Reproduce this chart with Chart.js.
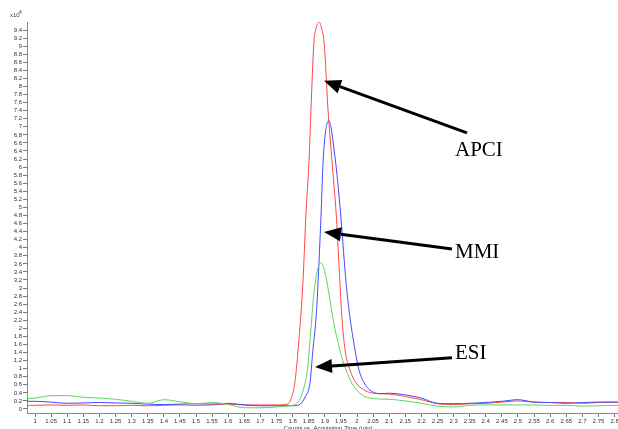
<!DOCTYPE html>
<html>
<head>
<meta charset="utf-8">
<script src="https://cdn.jsdelivr.net/npm/chart.js@4/dist/chart.umd.min.js"></script>
<style>
  html, body { margin: 0; padding: 0; background: #fff; overflow: hidden; width: 618px; height: 429px; }
  #wrap { position: relative; width: 640px; height: 429px; }
</style>
</head>
<body>
<div id="wrap"><canvas id="c" width="640" height="429"></canvas></div>
<script>
// Acquisition time (min) and counts (x10^4) for each ionisation source
const apciTime = [0.975, 1.0, 1.05, 1.1, 1.15, 1.2, 1.25, 1.3, 1.35, 1.4, 1.45, 1.5, 1.55, 1.6, 1.65, 1.7, 1.75, 1.785, 1.797, 1.807, 1.817, 1.832, 1.841, 1.851, 1.857, 1.866, 1.873, 1.882, 1.890, 1.898, 1.910, 1.922, 1.936, 1.947, 1.953, 1.963, 1.978, 1.997, 2.022, 2.045, 2.065, 2.1, 2.15, 2.2, 2.25, 2.3, 2.35, 2.4, 2.45, 2.5, 2.55, 2.6, 2.65, 2.7, 2.75, 2.8, 2.82];
const apciCounts = [0.09, 0.09, 0.1, 0.09, 0.1, 0.08, 0.08, 0.09, 0.08, 0.09, 0.1, 0.09, 0.1, 0.12, 0.1, 0.1, 0.1, 0.12, 0.3, 0.65, 1.46, 3.13, 4.76, 6.17, 7.42, 9.08, 9.45, 9.6, 9.45, 9.08, 7.42, 6.18, 4.76, 3.13, 2.28, 1.46, 0.97, 0.65, 0.47, 0.4, 0.38, 0.37, 0.31, 0.23, 0.13, 0.11, 0.13, 0.14, 0.17, 0.2, 0.17, 0.16, 0.16, 0.14, 0.16, 0.17, 0.17];

const mmiTime = [0.975, 1.0, 1.05, 1.1, 1.15, 1.2, 1.25, 1.3, 1.35, 1.4, 1.45, 1.5, 1.55, 1.6, 1.65, 1.7, 1.75, 1.8, 1.82, 1.839, 1.854, 1.863, 1.873, 1.879, 1.888, 1.895, 1.901, 1.907, 1.913, 1.919, 1.925, 1.938, 1.950, 1.966, 1.978, 1.994, 2.006, 2.022, 2.040, 2.071, 2.1, 2.15, 2.2, 2.25, 2.3, 2.35, 2.4, 2.45, 2.5, 2.55, 2.6, 2.65, 2.7, 2.75, 2.8, 2.82];
const mmiCounts = [0.19, 0.19, 0.17, 0.14, 0.15, 0.16, 0.15, 0.14, 0.12, 0.11, 0.12, 0.13, 0.12, 0.14, 0.1, 0.08, 0.08, 0.08, 0.1, 0.3, 0.65, 1.46, 2.28, 3.13, 4.76, 6.18, 6.8, 7.08, 7.15, 7.0, 6.67, 5.8, 4.76, 3.13, 2.28, 1.46, 0.97, 0.65, 0.47, 0.38, 0.39, 0.35, 0.27, 0.14, 0.13, 0.14, 0.16, 0.19, 0.23, 0.17, 0.16, 0.14, 0.16, 0.17, 0.17, 0.17];

const esiTime = [0.975, 1.0, 1.05, 1.1, 1.15, 1.2, 1.25, 1.3, 1.35, 1.4, 1.45, 1.5, 1.55, 1.6, 1.65, 1.7, 1.75, 1.78, 1.8, 1.818, 1.833, 1.847, 1.856, 1.864, 1.875, 1.888, 1.901, 1.911, 1.921, 1.932, 1.942, 1.952, 1.966, 1.984, 2.009, 2.04, 2.1, 2.15, 2.2, 2.25, 2.3, 2.35, 2.4, 2.45, 2.5, 2.55, 2.6, 2.65, 2.7, 2.75, 2.8, 2.82];
const esiCounts = [0.26, 0.27, 0.33, 0.33, 0.29, 0.27, 0.24, 0.19, 0.14, 0.23, 0.18, 0.13, 0.16, 0.11, 0.03, 0.03, 0.05, 0.07, 0.09, 0.18, 0.47, 1.04, 1.89, 2.7, 3.37, 3.63, 3.37, 2.95, 2.46, 1.96, 1.63, 1.3, 0.97, 0.64, 0.39, 0.27, 0.24, 0.2, 0.14, 0.07, 0.05, 0.09, 0.1, 0.1, 0.1, 0.1, 0.09, 0.09, 0.07, 0.08, 0.09, 0.09];

// Axis ticks
const xTickValues = [1, 1.05, 1.1, 1.15, 1.2, 1.25, 1.3, 1.35, 1.4, 1.45, 1.5, 1.55, 1.6, 1.65, 1.7, 1.75, 1.8, 1.85, 1.9, 1.95, 2, 2.05, 2.1, 2.15, 2.2, 2.25, 2.3, 2.35, 2.4, 2.45, 2.5, 2.55, 2.6, 2.65, 2.7, 2.75, 2.8];
const yTickValues = [0, 0.2, 0.4, 0.6, 0.8, 1, 1.2, 1.4, 1.6, 1.8, 2, 2.2, 2.4, 2.6, 2.8, 3, 3.2, 3.4, 3.6, 3.8, 4, 4.2, 4.4, 4.6, 4.8, 5, 5.2, 5.4, 5.6, 5.8, 6, 6.2, 6.4, 6.6, 6.8, 7, 7.2, 7.4, 7.6, 7.8, 8, 8.2, 8.4, 8.6, 8.8, 9, 9.2, 9.4];

// Annotations: label, arrow tip [time, counts], arrow tail [time, counts]
const labelNames = ['APCI', 'MMI', 'ESI'];
const arrowTips = [[1.8975, 8.14], [1.8975, 4.39], [1.8696, 1.04]];
const arrowTails = [[2.3416, 6.85], [2.295, 3.97], [2.295, 1.27]];

const toPoints = (t, v) => t.map((x, i) => ({ x: x, y: v[i] }));

const annotPlugin = {
  id: 'annot',
  afterDatasetsDraw(chart) {
    const ctx = chart.ctx;
    const xs = chart.scales.x, ys = chart.scales.y;
    ctx.save();
    // multiplier
    ctx.fillStyle = '#333';
    ctx.font = '6px "Liberation Sans", Arial, sans-serif';
    ctx.textBaseline = 'alphabetic';
    ctx.textAlign = 'left';
    ctx.fillText('x10', 10, 17);
    ctx.font = '5px "Liberation Sans", Arial, sans-serif';
    ctx.fillText('4', 19, 14);
    // axis title
    ctx.font = '6px "Liberation Sans", Arial, sans-serif';
    ctx.textAlign = 'center';
    ctx.fillText('Counts vs. Acquisition Time (min)', 328, 430);
    // arrows
    const labelY = [150, 252, 353];
    for (let i = 0; i < labelNames.length; i++) {
      const tx = xs.getPixelForValue(arrowTips[i][0]);
      const ty = ys.getPixelForValue(arrowTips[i][1]);
      const sx = xs.getPixelForValue(arrowTails[i][0]);
      const sy = ys.getPixelForValue(arrowTails[i][1]);
      const ang = Math.atan2(ty - sy, tx - sx);
      const headLen = 17, headW = 7;
      const bx = tx - headLen * Math.cos(ang), by = ty - headLen * Math.sin(ang);
      ctx.strokeStyle = '#000';
      ctx.lineWidth = 3;
      ctx.beginPath();
      ctx.moveTo(sx, sy);
      ctx.lineTo(bx, by);
      ctx.stroke();
      ctx.fillStyle = '#000';
      ctx.beginPath();
      ctx.moveTo(tx, ty);
      ctx.lineTo(bx + headW * Math.sin(ang), by - headW * Math.cos(ang));
      ctx.lineTo(bx - headW * Math.sin(ang), by + headW * Math.cos(ang));
      ctx.closePath();
      ctx.fill();
      // label
      ctx.font = '21px "Liberation Serif", "Times New Roman", serif';
      ctx.textAlign = 'left';
      ctx.textBaseline = 'middle';
      ctx.fillText(labelNames[i], 455, labelY[i]);
    }
    ctx.restore();
  }
};

const tickFont = { family: '"Liberation Sans", Arial, sans-serif', size: 6 };

new Chart(document.getElementById('c'), {
  type: 'line',
  data: {
    datasets: [
      { label: 'ESI', data: toPoints(esiTime, esiCounts), borderColor: 'rgb(90,215,90)', borderWidth: 1, pointRadius: 0, cubicInterpolationMode: 'monotone', fill: false },
      { label: 'MMI', data: toPoints(mmiTime, mmiCounts), borderColor: 'rgb(70,70,255)', borderWidth: 1, pointRadius: 0, cubicInterpolationMode: 'monotone', fill: false },
      { label: 'APCI', data: toPoints(apciTime, apciCounts), borderColor: 'rgb(255,70,70)', borderWidth: 1, pointRadius: 0, cubicInterpolationMode: 'monotone', fill: false }
    ]
  },
  options: {
    responsive: false,
    animation: false,
    devicePixelRatio: 1,
    layout: { padding: { top: 22, right: 19, left: 0, bottom: 0 } },
    plugins: { legend: { display: false }, tooltip: { enabled: false } },
    scales: {
      x: {
        type: 'linear',
        min: 0.975,
        max: 2.82,
        afterBuildTicks: (s) => { s.ticks = xTickValues.map(v => ({ value: v })); },
        afterFit: (s) => { s.height = 16; },
        ticks: {
          autoSkip: false, maxRotation: 0, padding: 1, color: '#333', font: tickFont,
          callback: (v) => String(parseFloat(Number(v).toFixed(2)))
        },
        grid: { display: true, drawOnChartArea: false, drawTicks: true, tickLength: 4, color: '#777' },
        border: { display: true, color: '#888', width: 1 }
      },
      y: {
        type: 'linear',
        min: -0.1,
        max: 9.6,
        afterBuildTicks: (s) => { s.ticks = yTickValues.map(v => ({ value: v })); },
        afterFit: (s) => { s.width = 27; },
        ticks: {
          autoSkip: false, padding: 1, color: '#333', font: tickFont,
          callback: (v) => String(parseFloat(Number(v).toFixed(1)))
        },
        grid: { display: true, drawOnChartArea: false, drawTicks: true, tickLength: 4, color: '#777' },
        border: { display: true, color: '#888', width: 1 }
      }
    }
  },
  plugins: [annotPlugin]
});
</script>
</body>
</html>
